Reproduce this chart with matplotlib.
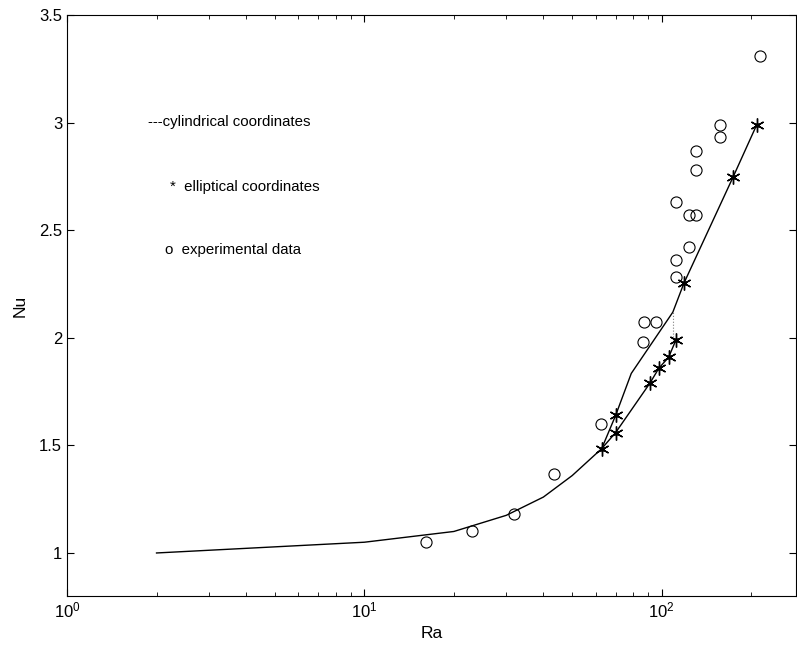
#!/usr/bin/env python3
import matplotlib
matplotlib.use('Agg')
import matplotlib.pyplot as plt

# cylindrical coordinates line (low Ra part)
cyl_ra = [2, 10, 20, 30, 40, 50, 62.8]
cyl_nu = [1.0, 1.05, 1.10, 1.175, 1.26, 1.36, 1.485]

# upper branch
upper_ra = [62.8, 70, 79, 109, 118.8, 174, 208.5]
upper_nu = [1.485, 1.64, 1.835, 2.12, 2.255, 2.75, 2.99]

# lower branch
lower_ra = [62.8, 70, 91.3, 97.9, 105.5, 111.6]
lower_nu = [1.485, 1.56, 1.79, 1.86, 1.91, 1.99]

# dotted connector between the branches
link_ra = [109, 109]
link_nu = [1.99, 2.12]

# elliptical coordinates (asterisks)
ell_ra = [62.8, 70, 70, 91.3, 97.9, 105.5, 111.6, 118.8, 174, 208.5]
ell_nu = [1.485, 1.56, 1.64, 1.79, 1.86, 1.91, 1.99, 2.255, 2.75, 2.99]

# experimental data (circles)
exp_ra = [16.1, 23.1, 31.8, 43.5, 62.3, 86.7, 87.1, 95.6, 111.6, 111.6,
          111.6, 123.7, 123.7, 130.4, 130.3, 130.3, 157, 157, 213.9]
exp_nu = [1.05, 1.10, 1.18, 1.366, 1.60, 1.983, 2.076, 2.076, 2.285, 2.363,
          2.634, 2.422, 2.572, 2.572, 2.781, 2.871, 2.933, 2.99, 3.312]

plt.rcParams['font.family'] = ['Liberation Sans', 'DejaVu Sans']
plt.rcParams['mathtext.fontset'] = 'custom'
plt.rcParams['mathtext.rm'] = 'Liberation Sans'
plt.rcParams['mathtext.default'] = 'regular'

fig = plt.figure(figsize=(7.97, 6.56), dpi=100)
ax = fig.add_axes([0.0841, 0.0915, 0.9147, 0.885])

ax.plot(cyl_ra, cyl_nu, color='black', lw=1)
ax.plot(upper_ra, upper_nu, color='black', lw=1)
ax.plot(lower_ra, lower_nu, color='black', lw=1)
ax.plot(link_ra, link_nu, color='gray', lw=0.8, ls=':')
ax.plot(ell_ra, ell_nu, ls='none', marker=(6, 2, 0), ms=10, mew=1.0, color='black')
ax.plot(ell_ra, ell_nu, ls='none', marker='o', ms=2.5, color='black')
ax.plot(exp_ra, exp_nu, ls='none', marker='o', ms=8, mfc='none', mec='black', mew=0.8)

ax.set_xscale('log')
ax.set_xlim(1, 283)
ax.set_ylim(0.8, 3.5)
ax.set_yticks([1, 1.5, 2, 2.5, 3, 3.5])
ax.set_yticklabels(['1', '1.5', '2', '2.5', '3', '3.5'])
ax.tick_params(which='both', direction='in', top=True, right=True, labelsize=12)
ax.tick_params(which='major', length=5)
ax.tick_params(which='minor', length=3)
for s in ax.spines.values():
    s.set_linewidth(0.8)

ax.set_xlabel('Ra', fontsize=12.5)
ax.set_ylabel('Nu', fontsize=12.5, labelpad=8)

# hand-made legend text
ax.text(0.111, 0.8165, '---cylindrical coordinates', transform=ax.transAxes, fontsize=10.8, va='center')
ax.text(0.141, 0.7046, '*  elliptical coordinates', transform=ax.transAxes, fontsize=10.8, va='center')
ax.text(0.135, 0.596, 'o  experimental data', transform=ax.transAxes, fontsize=10.8, va='center')

plt.savefig('out.png', dpi=100)
